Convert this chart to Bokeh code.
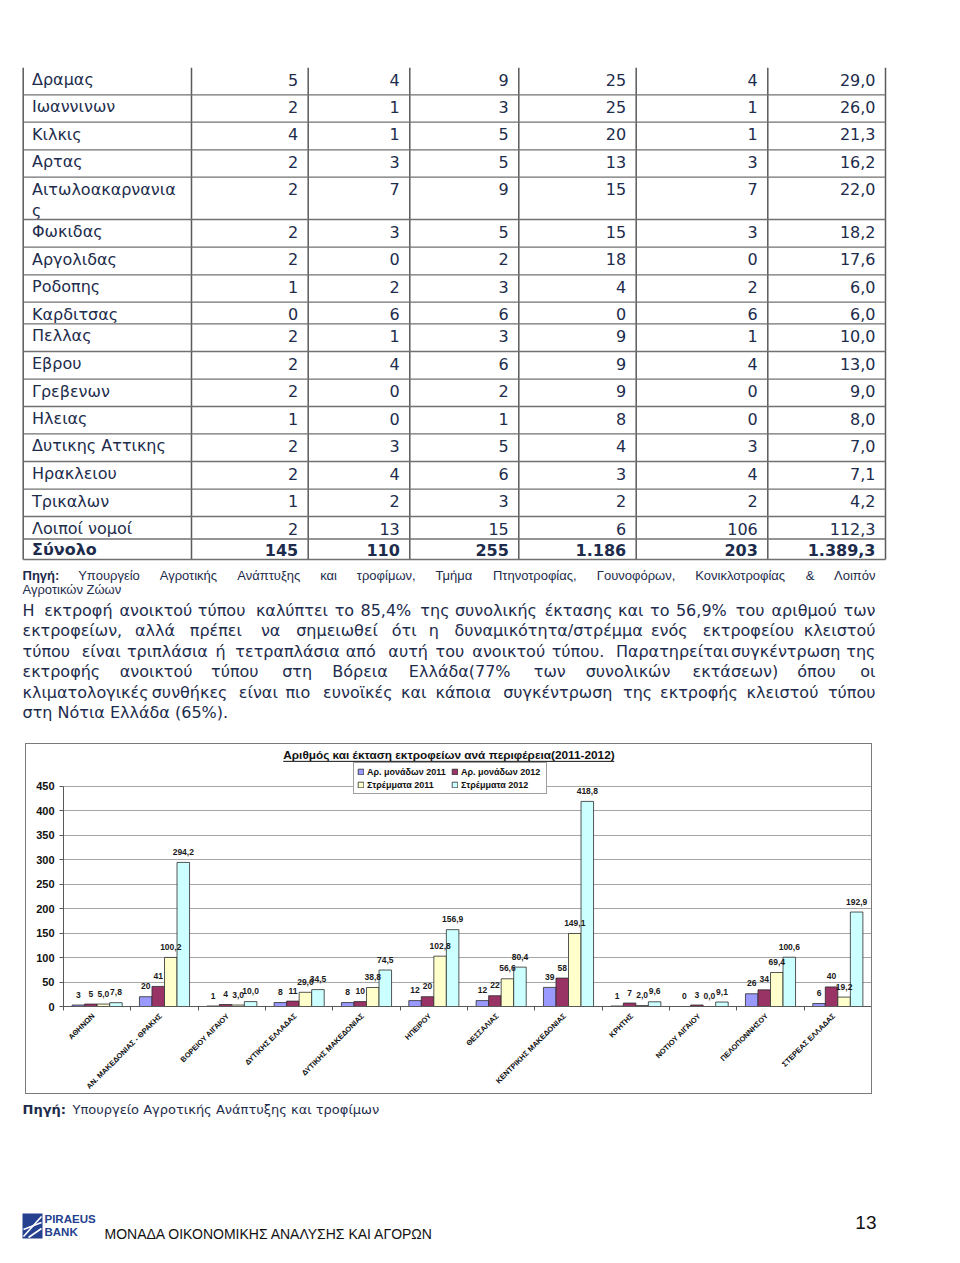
import math
import unicodedata
import numpy as np
from bokeh.plotting import figure
from bokeh.models import Range1d, ColumnDataSource, FixedTicker, Legend, LegendItem, Spacer
from bokeh.layouts import column, row
from bokeh.embed import file_html
from bokeh.resources import INLINE
from bokeh.core.properties import value

# ---------------- data: table (continuation) ----------------
prefectures = ["Δραμας", "Ιωαννινων", "Κιλκις", "Αρτας", "Αιτωλοακαρνανιας", "Φωκιδας",
               "Αργολιδας", "Ροδοπης", "Καρδιτσας", "Πελλας", "Εβρου", "Γρεβενων", "Ηλειας",
               "Δυτικης Αττικης", "Ηρακλειου", "Τρικαλων", "Λοιποί νομοί"]
col_a = [5, 2, 4, 2, 2, 2, 2, 1, 0, 2, 2, 2, 1, 2, 2, 1, 2]
col_b = [4, 1, 1, 3, 7, 3, 0, 2, 6, 1, 4, 0, 0, 3, 4, 2, 13]
col_c = [9, 3, 5, 5, 9, 5, 2, 3, 6, 3, 6, 2, 1, 5, 6, 3, 15]
col_d = [25, 25, 20, 13, 15, 15, 18, 4, 0, 9, 9, 9, 8, 4, 3, 2, 6]
col_e = [4, 1, 1, 3, 7, 3, 0, 2, 6, 1, 4, 0, 0, 3, 4, 2, 106]
col_f = [29.0, 26.0, 21.3, 16.2, 22.0, 18.2, 17.6, 6.0, 6.0, 10.0, 13.0, 9.0, 8.0, 7.0, 7.1, 4.2, 112.3]
total_name = "Σύνολο"
totals = ["145", "110", "255", "1.186", "203", "1.389,3"]

# ---------------- data: chart ----------------
regions = ["ΑΘΗΝΩΝ", "ΑΝ. ΜΑΚΕΔΟΝΙΑΣ - ΘΡΑΚΗΣ", "ΒΟΡΕΙΟΥ ΑΙΓΑΙΟΥ", "ΔΥΤΙΚΗΣ ΕΛΛΑΔΑΣ",
           "ΔΥΤΙΚΗΣ ΜΑΚΕΔΟΝΙΑΣ", "ΗΠΕΙΡΟΥ", "ΘΕΣΣΑΛΙΑΣ", "ΚΕΝΤΡΙΚΗΣ ΜΑΚΕΔΟΝΙΑΣ", "ΚΡΗΤΗΣ",
           "ΝΟΤΙΟΥ ΑΙΓΑΙΟΥ", "ΠΕΛΟΠΟΝΝΗΣΟΥ", "ΣΤΕΡΕΑΣ ΕΛΛΑΔΑΣ"]
units_2011 = [3, 20, 1, 8, 8, 12, 12, 39, 1, 0, 26, 6]
units_2012 = [5, 41, 4, 11, 10, 20, 22, 58, 7, 3, 34, 40]
strem_2011 = [5.0, 100.2, 3.0, 29.0, 38.8, 102.8, 56.6, 149.1, 2.0, 0.0, 69.4, 19.2]
strem_2012 = [7.8, 294.2, 10.0, 34.5, 74.5, 156.9, 80.4, 418.8, 9.6, 9.1, 100.6, 192.9]
series_names = ["Αρ. μονάδων 2011", "Αρ. μονάδων 2012", "Στρέμματα 2011", "Στρέμματα 2012"]
y_ticks = [0, 50, 100, 150, 200, 250, 300, 350, 400, 450]
chart_title = "Αριθμός και έκταση εκτροφείων ανά περιφέρεια(2011-2012)"

# ---------------- texts ----------------
source_lines = ["Πηγή: Υπουργείο Αγροτικής Ανάπτυξης και τροφίμων, Τμήμα Πτηνοτροφίας, Γουνοφόρων, Κονικλοτροφίας & Λοιπόν",
                "Αγροτικών Ζώων"]
para_lines = ["Η εκτροφή ανοικτού τύπου καλύπτει το 85,4% της συνολικής έκτασης και το 56,9% του αριθμού των",
              "εκτροφείων, αλλά πρέπει να σημειωθεί ότι η δυναμικότητα/στρέμμα ενός εκτροφείου κλειστού",
              "τύπου είναι τριπλάσια ή τετραπλάσια από αυτή του ανοικτού τύπου. Παρατηρείται συγκέντρωση της",
              "εκτροφής ανοικτού τύπου στη Βόρεια Ελλάδα(77% των συνολικών εκτάσεων) όπου οι",
              "κλιματολογικές συνθήκες είναι πιο ευνοϊκές και κάποια συγκέντρωση της εκτροφής κλειστού τύπου",
              "στη Νότια Ελλάδα (65%)."]
chart_source = "Υπουργείο Αγροτικής Ανάπτυξης και τροφίμων"
footer_text = "ΜΟΝΑΔΑ ΟΙΚΟΝΟΜΙΚΗΣ ΑΝΑΛΥΣΗΣ ΚΑΙ ΑΓΟΡΩΝ"
page_no = "13"

NAVY = "#1d2c4c"
TFONT = "DejaVu Sans"
AFONT = "Liberation Sans"
BL = 0.36  # empirical baseline correction (fraction of font size)

# approximate Arial-metric advance widths (em) used only to justify text lines
_W = {" ": .278, ",": .278, ".": .278, ":": .278, "%": .889, "(": .333, ")": .333, "/": .278,
      "&": .667, "-": .333,
      "α": .578, "β": .575, "γ": .500, "δ": .556, "ε": .446, "ζ": .441, "η": .556, "θ": .556,
      "ι": .222, "κ": .500, "λ": .500, "μ": .576, "ν": .500, "ξ": .446, "ο": .556, "π": .690,
      "ρ": .569, "ς": .486, "σ": .617, "τ": .395, "υ": .547, "φ": .668, "χ": .525, "ψ": .713,
      "ω": .774,
      "Α": .667, "Β": .667, "Γ": .551, "Δ": .667, "Ε": .667, "Ζ": .611, "Η": .722, "Θ": .778,
      "Ι": .278, "Κ": .667, "Λ": .667, "Μ": .833, "Ν": .722, "Ξ": .649, "Ο": .778, "Π": .722,
      "Ρ": .667, "Σ": .619, "Τ": .611, "Υ": .667, "Φ": .798, "Χ": .667, "Ψ": .835, "Ω": .748}


def word_w(w, size, factor=1.0):
    tot = 0.0
    for ch in w:
        base = "".join(c for c in unicodedata.normalize("NFD", ch) if not unicodedata.combining(c))
        base = base or ch
        tot += _W.get(base, .556)
    return tot * size * factor


def fmt1(v):
    return f"{v:.1f}".replace(".", ",")


def blank(fig):
    fig.outline_line_color = None
    fig.background_fill_color = "white"
    fig.border_fill_color = "white"


# ================= top figure: table + paragraph (page pixel coords) =================
top = figure(width=944, height=743, x_range=Range1d(0, 944), y_range=Range1d(743, 0),
             toolbar_location=None, output_backend="svg", x_axis_type=None, y_axis_type=None,
             min_border=0)
blank(top)

col_x = [22.7, 191.0, 307.7, 409.3, 518.3, 635.7, 767.3, 885.0]
row_y = [67.3, 94.3, 121.7, 149.3, 176.7, 219.0, 246.7, 274.3, 301.7, 323.3, 351.0,
         378.7, 406.0, 433.3, 461.0, 488.7, 516.0, 538.5, 559.0]

top.segment(x0=col_x, y0=[row_y[0]] * len(col_x), x1=col_x, y1=[row_y[-1]] * len(col_x),
            line_color="#5a5a5a", line_width=1.5)
nh = len(row_y) - 1
top.segment(x0=[col_x[0]] * nh, y0=row_y[1:], x1=[col_x[-1]] * nh, y1=row_y[1:],
            line_color="#707070", line_width=1.3)

TS = 16
baselines = [min(row_y[i] + 17.8, row_y[i + 1] - 4) - BL * TS for i in range(len(row_y) - 1)]

name_x, name_y, name_t = [], [], []
for i, nm in enumerate(prefectures):
    name_x.append(31.5)
    name_y.append(baselines[i])
    name_t.append(nm[:15])
    if len(nm) > 15:
        name_x.append(31.5)
        name_y.append(baselines[i] + 21.5)
        name_t.append(nm[15:])
top.text(x=name_x, y=name_y, text=name_t, text_font=value(TFONT), text_font_size=f"{TS}px",
         text_color=NAVY, text_baseline="alphabetic", text_align="left")

cols = [col_a, col_b, col_c, col_d, col_e, [fmt1(v) for v in col_f]]
cx, cy, ct = [], [], []
for j, cvals in enumerate(cols):
    for i, v in enumerate(cvals):
        cx.append(col_x[j + 2] - 10)
        cy.append(baselines[i])
        ct.append(str(v))
top.text(x=cx, y=cy, text=ct, text_font=value(TFONT), text_font_size=f"{TS}px",
         text_color=NAVY, text_baseline="alphabetic", text_align="right")

tb = baselines[-1]
top.text(x=[31.5], y=[tb], text=[total_name], text_font=value(TFONT), text_font_size=f"{TS}px",
         text_font_style="bold", text_color=NAVY, text_baseline="alphabetic", text_align="left")
top.text(x=[col_x[j + 2] - 10 for j in range(6)], y=[tb] * 6, text=totals, text_font=value(TFONT),
         text_font_size=f"{TS}px", text_font_style="bold", text_color=NAVY,
         text_baseline="alphabetic", text_align="right")


def place_line(fig, text, x0, x1, yb, size, font, factor, justify=True, bold_first=False):
    fs = f"{size}px"
    yb = yb - BL * size
    if not justify:
        fig.text(x=[x0], y=[yb], text=[text], text_font=value(font), text_font_size=fs,
                 text_color=NAVY, text_baseline="alphabetic", text_align="left")
        return
    words = text.split(" ")
    widths = [word_w(w, size, factor) * (1.06 if (bold_first and k == 0) else 1.0)
              for k, w in enumerate(words)]
    gap = (x1 - x0 - sum(widths)) / (len(words) - 1)
    xs, pos = [], x0
    for w in widths:
        xs.append(pos)
        pos += w + gap
    start = 0
    if bold_first:
        fig.text(x=[xs[0]], y=[yb], text=[words[0]], text_font=value(font), text_font_size=fs,
                 text_font_style="bold", text_color=NAVY, text_baseline="alphabetic", text_align="left")
        start = 1
    fig.text(x=xs[start:-1], y=[yb] * (len(words) - 1 - start), text=words[start:-1],
             text_font=value(font), text_font_size=fs, text_color=NAVY,
             text_baseline="alphabetic", text_align="left")
    fig.text(x=[x1], y=[yb], text=[words[-1]], text_font=value(font), text_font_size=fs,
             text_color=NAVY, text_baseline="alphabetic", text_align="right")


place_line(top, source_lines[0], 22, 875, 580, 13, AFONT, 1.0, justify=True, bold_first=True)
place_line(top, source_lines[1], 22, 875, 594, 13, AFONT, 1.0, justify=False)
para_base = [615.5, 636.0, 656.5, 677.0, 697.5, 718.0]
for k, ln in enumerate(para_lines):
    place_line(top, ln, 22, 875, para_base[k], 16, TFONT, 1.13, justify=(k < len(para_lines) - 1))

# ================= chart =================
n = len(regions)
idx = np.arange(n)
XR = Range1d(0, n)
bar_w = 0.186
offsets = [-0.279, -0.093, 0.093, 0.279]
series = [units_2011, units_2012, strem_2011, strem_2012]
series_lbl = [[str(v) for v in units_2011], [str(v) for v in units_2012],
              [fmt1(v) for v in strem_2011], [fmt1(v) for v in strem_2012]]
colors = ["#9999ff", "#993366", "#ffffcc", "#ccffff"]

chart = figure(width=845, height=267, x_range=XR, y_range=Range1d(0, 535),
               toolbar_location=None, output_backend="svg",
               min_border_left=37, min_border_right=0, min_border_top=0, min_border_bottom=5)
blank(chart)

srcs, rends = [], []
for k in range(4):
    src = ColumnDataSource(dict(x=idx + 0.5 + offsets[k], top=series[k], lab=series_lbl[k]))
    r = chart.vbar(x="x", top="top", bottom=0, width=bar_w, source=src, fill_color=colors[k],
                   line_color="#2b2b2b", line_width=0.8)
    srcs.append(src)
    rends.append(r)
for src in srcs:
    chart.text(x="x", y="top", text="lab", source=src, text_align="center",
               text_baseline="alphabetic", y_offset=-10.5, text_font=value(AFONT),
               text_font_size="8.5px", text_font_style="bold", text_color="#1a1a1a")

ya = chart.yaxis[0]
ya.ticker = FixedTicker(ticks=y_ticks)
ya.bounds = (0, 450)
ya.axis_line_color = "#595959"
ya.major_tick_line_color = "#595959"
ya.major_tick_out = 4
ya.major_tick_in = 0
ya.minor_tick_line_color = None
ya.major_label_standoff = 5
ya.major_label_text_font = AFONT
ya.major_label_text_font_size = "11px"
ya.major_label_text_font_style = "bold"
ya.major_label_text_color = "#111111"

xa = chart.xaxis[0]
xa.ticker = FixedTicker(ticks=[], minor_ticks=list(range(n + 1)))
xa.axis_line_color = "#595959"
xa.major_tick_line_color = None
xa.minor_tick_line_color = "#595959"
xa.minor_tick_out = 4
xa.minor_tick_in = 0
xa.major_tick_out = 4
xa.major_label_standoff = 0

chart.xgrid.visible = False
chart.ygrid.ticker = FixedTicker(ticks=y_ticks)
chart.ygrid.grid_line_color = "#a6a6a6"
chart.ygrid.grid_line_width = 1

chart.text(x=[5.725], y=[514.5], text=[chart_title], text_align="center",
           text_baseline="alphabetic", text_font=value(AFONT), text_font_size="11.8px",
           text_font_style="bold", text_color="#111111")
chart.segment(x0=[3.263], y0=[500.6], x1=[8.179], y1=[500.6], line_color="#111111", line_width=1)

legend = Legend(items=[LegendItem(label=series_names[0], renderers=[rends[0]]),
                       LegendItem(label=series_names[2], renderers=[rends[2]]),
                       LegendItem(label=series_names[1], renderers=[rends[1]]),
                       LegendItem(label=series_names[3], renderers=[rends[3]])],
                location=(290, 212), orientation="vertical", nrows=2,
                margin=0, padding=3, spacing=2, label_standoff=3,
                glyph_width=7, glyph_height=7, label_height=11, label_width=82,
                label_text_font=AFONT, label_text_font_size="9px", label_text_font_style="bold",
                label_text_color="#111111", border_line_color="#404040", border_line_width=1,
                background_fill_color="white", background_fill_alpha=1)
chart.add_layout(legend)

# category labels strip (below axis)
strip = figure(width=845, height=82, x_range=XR, y_range=Range1d(-82, 0),
               toolbar_location=None, output_backend="svg", x_axis_type=None, y_axis_type=None,
               min_border_left=37, min_border_right=0, min_border_top=0, min_border_bottom=0)
blank(strip)
strip.text(x=idx + 0.5, y=[0] * n, text=regions, angle=math.pi / 4, x_offset=-7,
           text_align="right", text_baseline="top", text_font=value(AFONT),
           text_font_size="7.5px", text_font_style="bold", text_color="#111111")

box = column(chart, strip, spacing=0, styles={"border": "1px solid #7a7a7a"})

# ================= bottom figure =================
bottom = figure(width=944, height=160, x_range=Range1d(0, 944), y_range=Range1d(1254, 1094),
                toolbar_location=None, output_backend="svg", x_axis_type=None, y_axis_type=None,
                min_border=0)
blank(bottom)
bottom.text(x=[22], y=[1114 - BL * 13], text=["Πηγή:"], text_font=value(TFONT), text_font_size="13px",
            text_font_style="bold", text_color=NAVY, text_baseline="alphabetic")
bottom.text(x=[72], y=[1114 - BL * 13], text=[chart_source], text_font=value(TFONT), text_font_size="13px",
            text_color=NAVY, text_baseline="alphabetic")

# logo
bottom.quad(left=[22], right=[42], top=[1213], bottom=[1238], fill_color="#24408e", line_color=None)
bottom.segment(x0=[23, 23, 28], y0=[1236, 1229, 1237], x1=[41, 41, 41], y1=[1216, 1222, 1228],
               line_color="white", line_width=1.6)
bottom.text(x=[44], y=[1223 - BL * 11.5], text=["PIRAEUS"], text_font=value(AFONT), text_font_size="11.5px",
            text_font_style="bold", text_color="#24408e", text_baseline="alphabetic")
bottom.text(x=[44], y=[1236 - BL * 11.5], text=["BANK"], text_font=value(AFONT), text_font_size="11.5px",
            text_font_style="bold", text_color="#24408e", text_baseline="alphabetic")
bottom.text(x=[104], y=[1239 - BL * 14], text=[footer_text], text_font=value(AFONT), text_font_size="14px",
            text_color="#111111", text_baseline="alphabetic")
bottom.text(x=[876], y=[1229 - BL * 19], text=[page_no], text_font=value(AFONT), text_font_size="19px",
            text_color="#111111", text_baseline="alphabetic", text_align="right")

page = column(top, row(Spacer(width=25, height=10), box, spacing=0), bottom, spacing=0)

open("out.html", "w").write(file_html(page, INLINE))
